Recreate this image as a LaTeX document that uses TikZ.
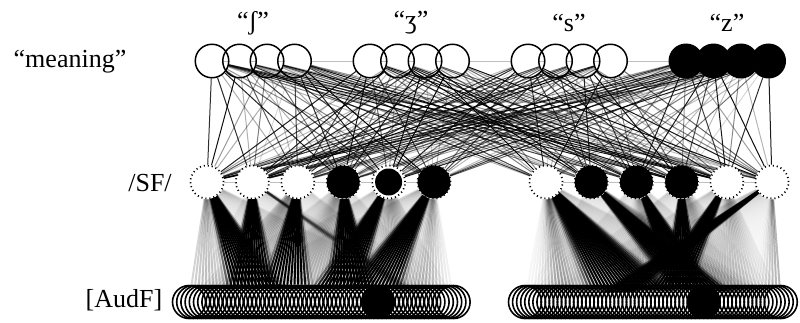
\documentclass[tikz,border=0pt]{standalone}
\usepackage{fontspec}
\setmainfont{Liberation Serif}
\usetikzlibrary{backgrounds}

\tikzset{
	meaning/.style={circle, draw, line width=1.5pt, minimum size=33.5pt, inner sep=0pt},
	meaningon/.style={meaning, fill=black},
	sfnode/.style={circle, draw, line width=1.7pt, dash pattern=on 1.1pt off 2.9pt, minimum size=33pt, inner sep=0pt, fill=white},
	sfon/.style={sfnode, fill=black},
	sfring/.style={sfnode, path picture={\fill[black] (path picture bounding box.center) circle (13.5pt);}},
	audf/.style={circle, draw, line width=1.6pt, minimum size=33pt, inner sep=0pt},
	audfon/.style={audf, fill=black},
	toplink/.style={line width=1pt},
	botlink/.style={line width=2pt},
	lateral/.style={line width=0.8pt, black!25},
	lbl/.style={font=\fontsize{26}{30}\selectfont}
}

\begin{document}
\begin{tikzpicture}[x=1pt, y=-1pt]
	%%%%% START %%%%%
	\useasboundingbox (0,0) rectangle (800,322);

	% layer names
	\node[lbl] (lmeaning) at (70,62) {“meaning”};
	\node[lbl] (lsf) at (150,183) {/SF/};
	\node[lbl] (laudf) at (124,300) {[AudF]};

	% meaning units, four groups of four
	\node[lbl] (lsh) at (253,23) {“ʃ”};
	\node[lbl] (lzh) at (411,23) {“ʒ”};
	\node[lbl] (ls) at (569,23) {“s”};
	\node[lbl] (lz) at (727,23) {“z”};
	\foreach \n in {1,...,12} {
		\pgfmathsetmacro\xm{212+158*floor((\n-1)/4)+27.5*mod(\n-1,4)}
		\node[meaning] (m\n) at (\xm,61) {};
	}
	\foreach \n in {13,...,16} {
		\pgfmathsetmacro\xm{212+158*3+27.5*(\n-13)}
		\node[meaningon] (m\n) at (\xm,61) {};
	}

	% /SF/ units
	\foreach \i/\st in {1/sfnode, 2/sfnode, 3/sfnode, 4/sfon, 5/sfring, 6/sfon,
		7/sfnode, 8/sfon, 9/sfon, 10/sfon, 11/sfnode, 12/sfnode} {
		\pgfmathsetmacro\xs{\i<7 ? 207+45.4*(\i-1) : 546+45.2*(\i-7)}
		\node[\st] (s\i) at (\xs,182) {};
	}

	% [AudF] units, two banks of 64 (the active one goes on top)
	\foreach \j in {0,...,63} {
		\ifnum\j=45 \else \node[audf] (a\j) at (189+4.2*\j, 302) {}; \fi
		\ifnum\j=44 \else \node[audf] (b\j) at (525+4.06*\j, 302) {}; \fi
	}
	\node[audfon] (a45) at (189+4.2*45, 302) {};
	\node[audfon] (b44) at (525+4.06*44, 302) {};

	\begin{scope}[on background layer]
		% lateral links
		\foreach \a [evaluate=\a as \b using int(\a+1)] in {1,...,15}
			\draw[lateral] (m\a) -- (m\b);
		\foreach \a [evaluate=\a as \b using int(\a+1)] in {1,2,3,4,5,7,8,9,10,11}
			\draw[lateral] (s\a) -- (s\b);

		% meaning -> /SF/
		\pgfmathsetseed{4}
		\foreach \a in {1,...,16}
			\foreach \b in {1,...,12} {
				\pgfmathsetmacro\op{0.15+0.85*rnd}
				\draw[toplink, opacity=\op] (m\a) -- (s\b);
			}

		% /SF/ -> [AudF]: flat-topped main fan (c,w) plus a soft side fan (d,v,q)
		\foreach \i/\c/\w/\d/\v/\q in {1/262/32/205/25/0.2, 2/252/28/425/8/0.45,
			3/285/28/235/40/0.15, 4/352/28/300/40/0.15, 5/330/28/400/40/0.15, 6/365/32/425/20/0.2}
			\foreach \j in {0,...,63} {
				\pgfmathsetmacro\op{min(1, 0.03 + exp(-min(abs((189+4.2*\j-\c)/\w),1.6)^8)
					+ \q*exp(-min(abs((189+4.2*\j-\d)/\v),3.5)^2))}
				\draw[botlink, opacity=\op] (s\i) -- (a\j);
			}
		\foreach \i/\c/\w/\d/\v/\q in {7/640/48/565/20/0.3, 8/712/32/750/20/0.15,
			9/700/26/660/30/0.15, 10/682/22/720/30/0.15, 11/662/24/740/30/0.15, 12/605/20/778/15/0.25}
			\foreach \j in {0,...,63} {
				\pgfmathsetmacro\op{min(1, 0.03 + exp(-min(abs((525+4.06*\j-\c)/\w),1.6)^8)
					+ \q*exp(-min(abs((525+4.06*\j-\d)/\v),3.5)^2))}
				\draw[botlink, opacity=\op] (s\i) -- (b\j);
			}
	\end{scope}
	%%%%% END %%%%%
\end{tikzpicture}
\end{document}
